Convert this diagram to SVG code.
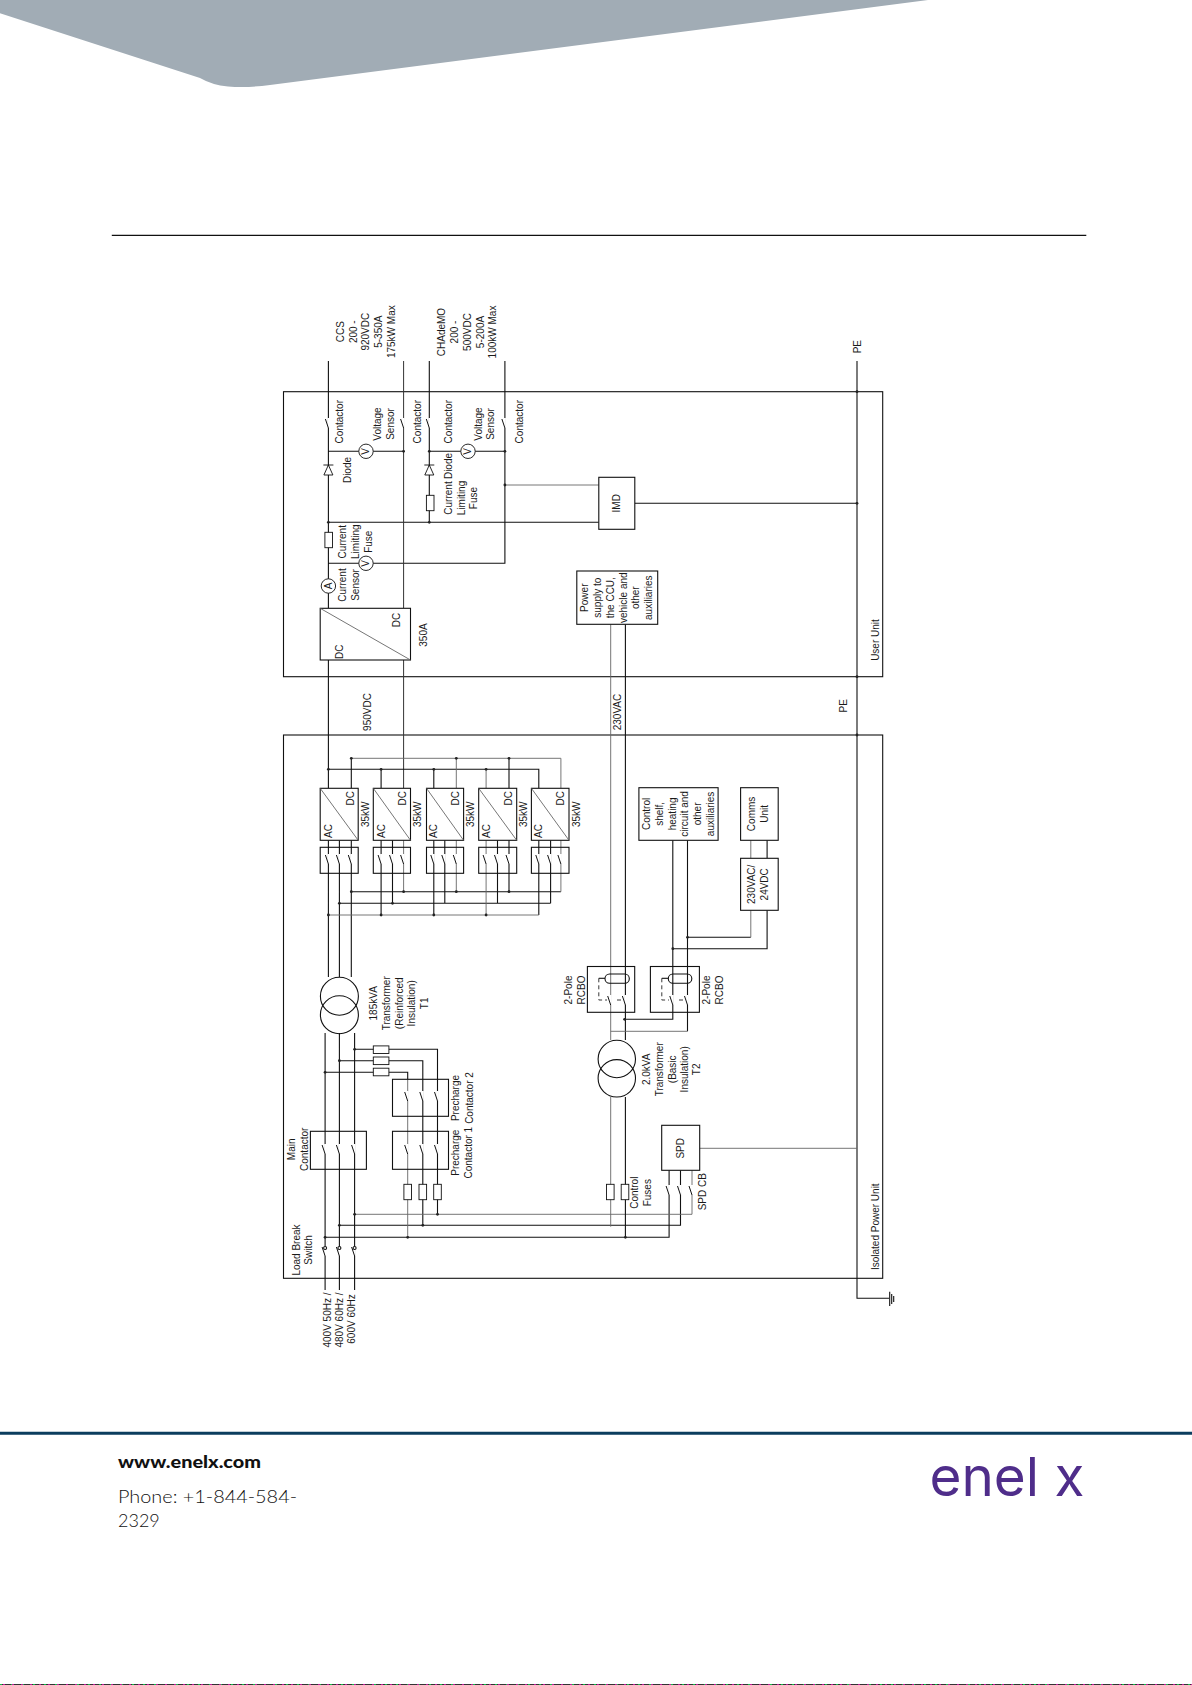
<svg xmlns="http://www.w3.org/2000/svg" width="1192" height="1685" viewBox="0 0 1192 1685">
<style>
text{font-family:"Liberation Sans",Arial,sans-serif;font-size:10px;fill:#1a1a1a;text-anchor:middle;dominant-baseline:central}
.w{fill:none;stroke:#111;stroke-width:1.1}
.m{fill:none;stroke:#333;stroke-width:1}
.g{fill:none;stroke:#666;stroke-width:.9}
.b{fill:#fff;stroke:#111;stroke-width:1.1}
.n{fill:none;stroke:#111;stroke-width:1.1}
.d{fill:none;stroke:#222;stroke-width:.9;stroke-dasharray:4 3}
.foot{text-anchor:start;dominant-baseline:auto;fill:#111;font-family:Lato,"Liberation Sans",sans-serif}
</style>
<defs>
<g id="sw"><path d="M0 -6V4" stroke="#fff" stroke-width="2" fill="none"/><path d="M0 4L-3 -5" fill="none" stroke="#111" stroke-width="1"/></g>
<g id="diode"><path d="M-5 -5H5M0 -5L4.5 5H-4.5Z" fill="#fff" stroke="#111" stroke-width=".9"/></g>
<rect id="fv" x="-3.8" y="-7.7" width="7.6" height="15.4" fill="#fff" stroke="#111" stroke-width=".9"/>
<rect id="fh" x="-7.8" y="-3.8" width="15.6" height="7.6" fill="#fff" stroke="#111" stroke-width=".9"/>
<circle id="meter" r="7.2" fill="#fff" stroke="#111" stroke-width=".9"/>
<circle id="j" r="1.4" fill="#222"/>
</defs>
<rect width="1192" height="1685" fill="#fff"/>
<g id="header">
<path d="M0 0H928L270 85Q248 88 228 86.5Q212 85 200 78L0 13.3Z" fill="#a1acb5"/>
<path d="M111.8 235.3H1086.3" stroke="#111" stroke-width="1.2"/>
</g>
<g id="user-unit"><rect x="283.5" y="391.7" width="599.2" height="285" class="n"/><text transform="rotate(-90 875.4 640)" x="875.4" y="640">User Unit</text></g>
<g id="isolated-power-unit"><rect x="283.5" y="735" width="599.2" height="543.3" class="n"/><text transform="rotate(-90 875.4 1226.7)" x="875.4" y="1226.7">Isolated Power Unit</text></g>
<g id="connectors">
<path class="w" d="M328.4 361V608M328.4 660V788.3M429.3 361V522.3M504.9 361V563.3H328.4M328.4 522.3H598.8M634.8 503.3H857M328.4 451.3H403.6M429.3 451.3H504.9M857 361V1298.3H889"/>
<path class="m" d="M403.6 361V608M403.6 660V788.3"/>
<path class="g" d="M504.9 485H598.8"/>
<path class="w" d="M328.4 769.3H538.8V788.3M381.1 769.3V788.3M433.8 769.3V788.3M351.3 758.3V788.3M509 758.3V788.3"/>
<path class="g" d="M351.3 758.3H560.9V788.3M456.3 758.3V788.3M486.1 769.3V788.3"/>
<path class="w" d="M328.4 840.3V977M339.4 840.3V977M351.3 840.3V977M351.3 891.7H560.9M339.4 903.3H550.6M381.1 840.3V915M392.5 840.3V903.3M433.8 840.3V915M444.8 840.3V903.3M497.5 840.3V903.3M509 840.3V891.7M538.8 840.3V915M550.6 840.3V903.3"/>
<path class="g" d="M328.4 915H538.8M403.6 840.3V891.7M456.3 840.3V891.7M486.1 840.3V915M560.9 840.3V891.7"/>
<path class="w" d="M325.1 1033V1290M339.4 1033V1290M354.6 1033V1290M354.6 1049.3H437.5V1214.3M339.4 1060.7H422.8V1225.3M325.1 1072.3H407.7V1079.3M339.4 1225.3H680.5V1170.3M325.1 1237.3H669.1V1170.3"/>
<path class="g" d="M407.7 1079.3V1237.3M354.6 1214.3H692V1170.3M699.7 1148.3H857"/>
<path class="g" d="M610.7 624.3V1040M610.7 1097V1226.7"/>
<path class="w" d="M625.4 624.3V1040M625.4 1097V1237.3"/>
<path class="w" d="M672.8 840.3V1019.3H624.6M687.5 840.3V1031.3M767.1 840.3V858.3M767.1 910.3V948.7H672.8M750.8 937.3H687.5"/>
<path class="g" d="M687.5 1031.3H610.7M750.8 840.3V858.3M750.8 910.3V937.3"/>
<path class="n" d="M889.7 1291.7V1306M891.7 1294V1304M893.7 1296V1302"/>
<use href="#j" x="857" y="391.7"/><use href="#j" x="857" y="503.3"/><use href="#j" x="857" y="676.7"/><use href="#j" x="857" y="735"/>
<use href="#j" x="328.4" y="522.3"/><use href="#j" x="429.3" y="522.3"/><use href="#j" x="504.9" y="485"/><use href="#j" x="504.9" y="451.3"/><use href="#j" x="403.6" y="451.3"/><use href="#j" x="429.3" y="451.3"/>
<use href="#j" x="328.4" y="769.3"/><use href="#j" x="381.1" y="769.3"/><use href="#j" x="433.8" y="769.3"/><use href="#j" x="486.1" y="769.3"/><use href="#j" x="456.3" y="758.3"/><use href="#j" x="509" y="758.3"/><use href="#j" x="351.3" y="758.3"/>
<use href="#j" x="351.3" y="891.7"/><use href="#j" x="403.6" y="891.7"/><use href="#j" x="456.3" y="891.7"/><use href="#j" x="509" y="891.7"/><use href="#j" x="339.4" y="903.3"/><use href="#j" x="392.5" y="903.3"/><use href="#j" x="328.4" y="915"/><use href="#j" x="381.1" y="915"/><use href="#j" x="433.8" y="915"/><use href="#j" x="486.1" y="915"/>
<use href="#j" x="339.4" y="1060.7"/><use href="#j" x="325.1" y="1072.3"/><use href="#j" x="354.6" y="1049.3"/><use href="#j" x="437.5" y="1214.3"/><use href="#j" x="354.6" y="1214.3"/><use href="#j" x="339.4" y="1225.3"/><use href="#j" x="422.8" y="1225.3"/><use href="#j" x="325.1" y="1237.3"/><use href="#j" x="407.7" y="1237.3"/><use href="#j" x="625.4" y="1237.3"/><use href="#j" x="624.6" y="1019.3"/><use href="#j" x="672.8" y="948.7"/><use href="#j" x="687.5" y="937.3"/>
</g>
<g id="labels-out">
<text transform="rotate(-90 340.3 331.7)" x="340.3" y="331.7">CCS</text>
<text transform="rotate(-90 353.3 331.7)" x="353.3" y="331.7">200 -</text>
<text transform="rotate(-90 366 331.7)" x="366" y="331.7">920VDC</text>
<text transform="rotate(-90 379 331.7)" x="379" y="331.7">5-350A</text>
<text transform="rotate(-90 391.7 331.7)" x="391.7" y="331.7">175kW Max</text>
<text transform="rotate(-90 441.6 332)" x="441.6" y="332">CHAdeMO</text>
<text transform="rotate(-90 454.6 332)" x="454.6" y="332">200 -</text>
<text transform="rotate(-90 467.3 332)" x="467.3" y="332">500VDC</text>
<text transform="rotate(-90 480 332)" x="480" y="332">5-200A</text>
<text transform="rotate(-90 492.2 332)" x="492.2" y="332">100kW Max</text>
<text transform="rotate(-90 858 346.7)" x="858" y="346.7">PE</text>
<text transform="rotate(-90 843.4 705.7)" x="843.4" y="705.7">PE</text>
<text transform="rotate(-90 367 712)" x="367" y="712">950VDC</text>
<text transform="rotate(-90 617 712)" x="617" y="712">230VAC</text>
<text transform="rotate(-90 327.2 1320)" x="327.2" y="1320">400V 50Hz /</text>
<text transform="rotate(-90 339.9 1320)" x="339.9" y="1320">480V 60Hz /</text>
<text transform="rotate(-90 351.7 1319)" x="351.7" y="1319">600V 60Hz</text>
</g>
<g id="contactors-user">
<use href="#sw" x="328.4" y="424"/><use href="#sw" x="403.6" y="424"/><use href="#sw" x="429.3" y="424"/><use href="#sw" x="504.9" y="424"/>
<text transform="rotate(-90 339.4 421.7)" x="339.4" y="421.7">Contactor</text>
<text transform="rotate(-90 417.9 421.7)" x="417.9" y="421.7">Contactor</text>
<text transform="rotate(-90 448.5 421.7)" x="448.5" y="421.7">Contactor</text>
<text transform="rotate(-90 520 421.7)" x="520" y="421.7">Contactor</text>
</g>
<g id="voltage-sensor-1"><use href="#meter" x="366" y="451.3"/><text transform="rotate(-90 366 451.3)" x="366" y="451.3">V</text>
<text transform="rotate(-90 377 424)" x="377" y="424">Voltage</text><text transform="rotate(-90 390 424)" x="390" y="424">Sensor</text></g>
<g id="voltage-sensor-2"><use href="#meter" x="468" y="451.3"/><text transform="rotate(-90 468 451.3)" x="468" y="451.3">V</text>
<text transform="rotate(-90 478.3 424)" x="478.3" y="424">Voltage</text><text transform="rotate(-90 490.6 424)" x="490.6" y="424">Sensor</text></g>
<g id="diode-1"><use href="#diode" x="328.4" y="470"/><text transform="rotate(-90 347.6 470)" x="347.6" y="470">Diode</text></g>
<g id="diode-2"><use href="#diode" x="429.3" y="470"/><text transform="rotate(-90 448.5 466)" x="448.5" y="466">Diode</text></g>
<g id="fuse-1"><use href="#fv" x="328.7" y="540"/>
<text transform="rotate(-90 342.7 541.7)" x="342.7" y="541.7">Current</text><text transform="rotate(-90 355.8 541.7)" x="355.8" y="541.7">Limiting</text><text transform="rotate(-90 368.4 541.7)" x="368.4" y="541.7">Fuse</text></g>
<g id="fuse-2"><use href="#fv" x="430.2" y="503"/>
<text transform="rotate(-90 448.5 498)" x="448.5" y="498">Current</text><text transform="rotate(-90 461 498)" x="461" y="498">Limiting</text><text transform="rotate(-90 473.8 498)" x="473.8" y="498">Fuse</text></g>
<g id="voltage-sensor-3"><use href="#meter" x="366" y="563.3"/><text transform="rotate(-90 366 563.3)" x="366" y="563.3">V</text></g>
<g id="current-sensor"><use href="#meter" x="328.4" y="586"/><text transform="rotate(-90 328.4 586)" x="328.4" y="586">A</text>
<text transform="rotate(-90 342.7 585)" x="342.7" y="585">Current</text><text transform="rotate(-90 355.8 585)" x="355.8" y="585">Sensor</text></g>
<g id="dcdc"><rect class="b" x="320.2" y="608.3" width="90.3" height="51.7"/><path class="g" d="M320.2 608.3L410.5 660"/>
<text transform="rotate(-90 339.4 651.7)" x="339.4" y="651.7">DC</text><text transform="rotate(-90 396.6 620)" x="396.6" y="620">DC</text><text transform="rotate(-90 423 635)" x="423" y="635">350A</text></g>
<g id="imd"><rect class="b" x="598.8" y="477.3" width="36" height="52"/><text transform="rotate(-90 616.8 503.3)" x="616.8" y="503.3">IMD</text></g>
<g id="power-supply"><rect class="b" x="576.8" y="571" width="80.9" height="53.3"/>
<text transform="rotate(-90 584.5 597.7)" x="584.5" y="597.7">Power</text><text transform="rotate(-90 598 597.7)" x="598" y="597.7">supply to</text><text transform="rotate(-90 610.7 597.7)" x="610.7" y="597.7">the CCU,</text><text transform="rotate(-90 623.8 597.7)" x="623.8" y="597.7">vehicle and</text><text transform="rotate(-90 635.6 597.7)" x="635.6" y="597.7">other</text><text transform="rotate(-90 648.3 597.7)" x="648.3" y="597.7">auxiliaries</text></g>
<g id="rectifier-1"><rect class="b" x="320.2" y="788.3" width="38" height="52"/><path class="g" d="M320.2 788.3L358.2 840.3"/>
<text transform="rotate(-90 328.4 831)" x="328.4" y="831">AC</text><text transform="rotate(-90 350.5 798.3)" x="350.5" y="798.3">DC</text><text transform="rotate(-90 366 814.3)" x="366" y="814.3">35kW</text>
<rect class="n" x="320.2" y="847.3" width="38" height="26"/><use href="#sw" x="328.4" y="860"/><use href="#sw" x="339.4" y="860"/><use href="#sw" x="351.3" y="860"/></g>
<g id="rectifier-2"><rect class="b" x="373.3" y="788.3" width="37.2" height="52"/><path class="g" d="M373.3 788.3L410.5 840.3"/>
<text transform="rotate(-90 381 831)" x="381" y="831">AC</text><text transform="rotate(-90 403 798.3)" x="403" y="798.3">DC</text><text transform="rotate(-90 417.9 814.3)" x="417.9" y="814.3">35kW</text>
<rect class="n" x="373.3" y="847.3" width="37.2" height="26"/><use href="#sw" x="381.1" y="860"/><use href="#sw" x="392.5" y="860"/><use href="#sw" x="403.6" y="860"/></g>
<g id="rectifier-3"><rect class="b" x="426.5" y="788.3" width="37.1" height="52"/><path class="g" d="M426.5 788.3L463.6 840.3"/>
<text transform="rotate(-90 433.4 831)" x="433.4" y="831">AC</text><text transform="rotate(-90 456 798.3)" x="456" y="798.3">DC</text><text transform="rotate(-90 471 814.3)" x="471" y="814.3">35kW</text>
<rect class="n" x="426.5" y="847.3" width="37.1" height="26"/><use href="#sw" x="433.8" y="860"/><use href="#sw" x="444.8" y="860"/><use href="#sw" x="456.3" y="860"/></g>
<g id="rectifier-4"><rect class="b" x="478.7" y="788.3" width="38" height="52"/><path class="g" d="M478.7 788.3L516.7 840.3"/>
<text transform="rotate(-90 486 831)" x="486" y="831">AC</text><text transform="rotate(-90 509 798.3)" x="509" y="798.3">DC</text><text transform="rotate(-90 523.7 814.3)" x="523.7" y="814.3">35kW</text>
<rect class="n" x="478.7" y="847.3" width="38" height="26"/><use href="#sw" x="486.1" y="860"/><use href="#sw" x="497.5" y="860"/><use href="#sw" x="509" y="860"/></g>
<g id="rectifier-5"><rect class="b" x="531.4" y="788.3" width="37.6" height="52"/><path class="g" d="M531.4 788.3L569 840.3"/>
<text transform="rotate(-90 538.4 831)" x="538.4" y="831">AC</text><text transform="rotate(-90 561 798.3)" x="561" y="798.3">DC</text><text transform="rotate(-90 576.4 814.3)" x="576.4" y="814.3">35kW</text>
<rect class="n" x="531.4" y="847.3" width="37.6" height="26"/><use href="#sw" x="538.8" y="860"/><use href="#sw" x="550.6" y="860"/><use href="#sw" x="560.9" y="860"/></g>
<g id="control-shelf"><rect class="b" x="638.9" y="787.7" width="79.2" height="52.6"/>
<text transform="rotate(-90 646.2 813.9)" x="646.2" y="813.9">Control</text><text transform="rotate(-90 659.7 813.9)" x="659.7" y="813.9">shelf,</text><text transform="rotate(-90 672.4 813.9)" x="672.4" y="813.9">heating</text><text transform="rotate(-90 684.6 813.9)" x="684.6" y="813.9">circuit and</text><text transform="rotate(-90 697.7 813.9)" x="697.7" y="813.9">other</text><text transform="rotate(-90 710.8 813.9)" x="710.8" y="813.9">auxiliaries</text></g>
<g id="comms-unit"><rect class="b" x="740.6" y="787.7" width="37.6" height="52.6"/><text transform="rotate(-90 752 813.9)" x="752" y="813.9">Comms</text><text transform="rotate(-90 765 813.9)" x="765" y="813.9">Unit</text></g>
<g id="psu-24v"><rect class="b" x="740.6" y="858.3" width="37.6" height="52"/><text transform="rotate(-90 752 884.3)" x="752" y="884.3">230VAC/</text><text transform="rotate(-90 765 884.3)" x="765" y="884.3">24VDC</text></g>
<g id="rcbo-1"><rect class="n" x="587.4" y="966.5" width="47.3" height="45.8"/><rect class="n" x="605" y="974" width="24.3" height="9.3" rx="4.6"/><path class="n" d="M605 978.3H598.8"/><path class="d" d="M598.8 978.3V1000H607M617 1000H623"/><use href="#sw" x="610.7" y="1001"/><use href="#sw" x="625.4" y="1001"/>
<text transform="rotate(-90 568.2 990)" x="568.2" y="990">2-Pole</text><text transform="rotate(-90 581.3 990)" x="581.3" y="990">RCBO</text></g>
<g id="rcbo-2"><rect class="n" x="650.4" y="966.5" width="49" height="45.8"/><rect class="n" x="668.3" y="974" width="23.5" height="9.3" rx="4.6"/><path class="n" d="M668.3 978.3H661.8"/><path class="d" d="M661.8 978.3V1000H669M679 1000H685"/><use href="#sw" x="672.8" y="1001"/><use href="#sw" x="687.5" y="1001"/>
<text transform="rotate(-90 706.3 990)" x="706.3" y="990">2-Pole</text><text transform="rotate(-90 719.3 990)" x="719.3" y="990">RCBO</text></g>
<g id="t1"><circle class="n" cx="339.4" cy="996.3" r="19"/><circle class="n" cx="339.4" cy="1014.8" r="19"/>
<text transform="rotate(-90 373.3 1003.3)" x="373.3" y="1003.3">185kVA</text><text transform="rotate(-90 386.4 1003.3)" x="386.4" y="1003.3">Transformer</text><text transform="rotate(-90 399.1 1003.3)" x="399.1" y="1003.3">(Reinforced</text><text transform="rotate(-90 411.7 1003.3)" x="411.7" y="1003.3">Insulation)</text><text transform="rotate(-90 424.4 1003.3)" x="424.4" y="1003.3">T1</text></g>
<g id="t2"><circle class="n" cx="616.8" cy="1059" r="18.7"/><circle class="n" cx="616.8" cy="1078.3" r="18.7"/>
<text transform="rotate(-90 646.6 1069.3)" x="646.6" y="1069.3">2.0kVA</text><text transform="rotate(-90 659.3 1069.3)" x="659.3" y="1069.3">Transformer</text><text transform="rotate(-90 672.4 1069.3)" x="672.4" y="1069.3">(Basic</text><text transform="rotate(-90 684.6 1069.3)" x="684.6" y="1069.3">Insulation)</text><text transform="rotate(-90 696.9 1069.3)" x="696.9" y="1069.3">T2</text></g>
<g id="precharge-fuses-h"><use href="#fh" x="381.1" y="1049.7"/><use href="#fh" x="381.1" y="1060.8"/><use href="#fh" x="381.1" y="1072"/></g>
<g id="precharge-2"><rect class="n" x="392.5" y="1079.3" width="56" height="37"/><use href="#sw" x="407.7" y="1097"/><use href="#sw" x="422.8" y="1097"/><use href="#sw" x="437.5" y="1097"/>
<text transform="rotate(-90 455.9 1098)" x="455.9" y="1098">Precharge</text><text transform="rotate(-90 469 1098)" x="469" y="1098">Contactor 2</text></g>
<g id="precharge-1"><rect class="n" x="392.5" y="1131.3" width="56" height="38"/><use href="#sw" x="407.7" y="1150"/><use href="#sw" x="422.8" y="1150"/><use href="#sw" x="437.5" y="1150"/>
<text transform="rotate(-90 455.9 1152.7)" x="455.9" y="1152.7">Precharge</text><text transform="rotate(-90 469 1152.7)" x="469" y="1152.7">Contactor 1</text></g>
<g id="main-contactor"><rect class="n" x="310.4" y="1131.3" width="56" height="38"/><use href="#sw" x="325.1" y="1150"/><use href="#sw" x="339.4" y="1150"/><use href="#sw" x="354.6" y="1150"/>
<text transform="rotate(-90 291.2 1149.3)" x="291.2" y="1149.3">Main</text><text transform="rotate(-90 304.3 1149.3)" x="304.3" y="1149.3">Contactor</text></g>
<g id="load-break"><use href="#sw" x="325.1" y="1252"/><use href="#sw" x="339.4" y="1252"/><use href="#sw" x="354.6" y="1252"/>
<circle class="b" cx="325.1" cy="1248" r="1.5"/><circle class="b" cx="339.4" cy="1248" r="1.5"/><circle class="b" cx="354.6" cy="1248" r="1.5"/>
<text transform="rotate(-90 296 1250)" x="296" y="1250">Load Break</text><text transform="rotate(-90 308.8 1250)" x="308.8" y="1250">Switch</text></g>
<g id="precharge-fuses-v"><use href="#fv" x="407.7" y="1192"/><use href="#fv" x="422.8" y="1192"/><use href="#fv" x="437.5" y="1192"/></g>
<g id="control-fuses"><use href="#fv" x="610.3" y="1192"/><use href="#fv" x="625" y="1192"/>
<text transform="rotate(-90 634.8 1192.7)" x="634.8" y="1192.7">Control</text><text transform="rotate(-90 647.9 1192.7)" x="647.9" y="1192.7">Fuses</text></g>
<g id="spd"><rect class="b" x="661.7" y="1125.3" width="38" height="45"/><text transform="rotate(-90 680.5 1148.3)" x="680.5" y="1148.3">SPD</text></g>
<g id="spd-cb"><use href="#sw" x="669.1" y="1191"/><use href="#sw" x="680.5" y="1191"/><use href="#sw" x="692" y="1191"/><text transform="rotate(-90 703 1191.7)" x="703" y="1191.7">SPD CB</text></g>
<g id="footer">
<path d="M0 1433.3H1192" stroke="#0b3d5e" stroke-width="3"/>
<text class="foot" x="118" y="1468" textLength="143" lengthAdjust="spacingAndGlyphs" style="font-size:16px;font-weight:900">www.enelx.com</text>
<text class="foot" x="118" y="1503" textLength="179" lengthAdjust="spacingAndGlyphs" style="font-size:18px;font-weight:300">Phone: +1-844-584-</text>
<text class="foot" x="118" y="1527" style="font-size:18px;font-weight:300">2329</text>
<text class="foot" x="929.5" y="1496" textLength="155" lengthAdjust="spacingAndGlyphs" style="font-family:Inter,'Liberation Sans',sans-serif;font-size:54px;fill:#4f2d8a">enel x</text>
</g>
<g id="page-edge">
<path d="M0 1684.5H1192" stroke="#333" stroke-width="1"/>
<path d="M0 1684.5H1192" stroke="#11c04a" stroke-width="1" stroke-dasharray="2 9"/>
<path d="M3 1684.5H1192" stroke="#c2189a" stroke-width="1" stroke-dasharray="2 7"/>
</g>
</svg>
